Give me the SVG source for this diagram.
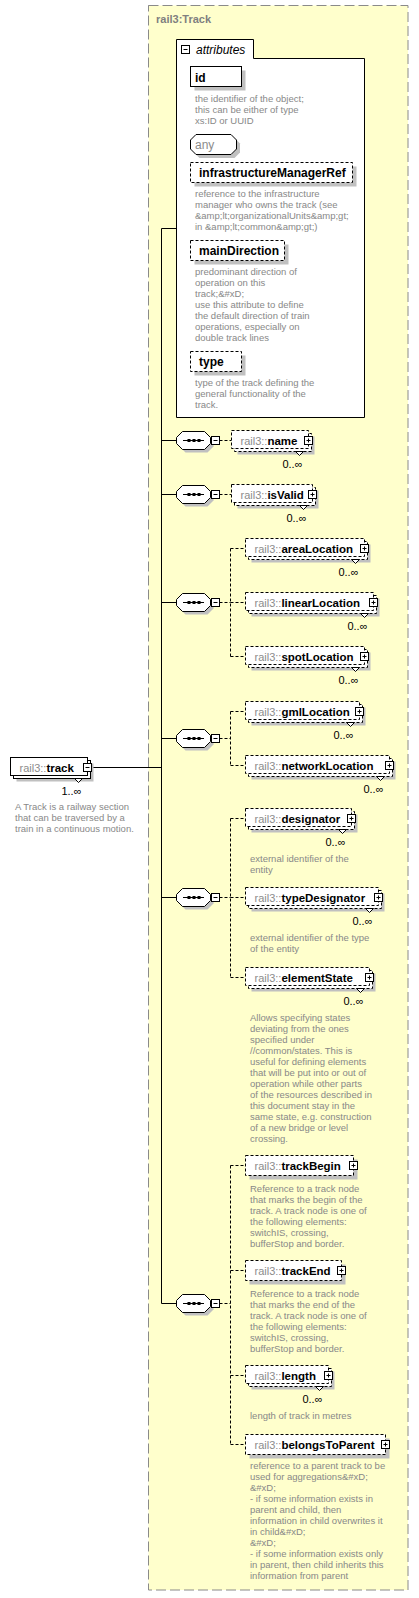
<svg xmlns="http://www.w3.org/2000/svg" xmlns:xlink="http://www.w3.org/1999/xlink" width="419" height="1598" viewBox="0 0 419 1598">
<style>
.ct{fill:#ffffcc;stroke:#8a8a8a;stroke-dasharray:10,4}
.ln{stroke:#000;fill:none}
.dl{stroke:#000;fill:none;stroke-dasharray:3,2}
.bx{fill:#fff;stroke:#000}
.bxd{fill:#fff;stroke:#000;stroke-dasharray:3,2}
.sh{fill:#c0c0c0}
text{font-family:"Liberation Sans",Arial,sans-serif}
.lbl{font-size:11px;fill:#8c8c8c}
.nm{font-size:11.5px;font-weight:bold;fill:#000}
.occ{font-size:11px;fill:#000}
.desc{font-size:9.5px;fill:#888}
.att{font-size:12px;font-weight:bold;fill:#000}
.hdr{font-size:11px;font-weight:bold;fill:#808080}
</style>
<defs>
<g id="plus"><rect class="bx" x="0" y="0" width="8" height="8"/><path d="M2,4H6M4,2V6" stroke="#000"/></g>
<g id="minus"><rect class="bx" x="0" y="0" width="8" height="8"/><path d="M2,4H6" stroke="#000"/></g>
<g id="seq">
<polygon class="sh" points="3.5,0 9.5,-6 31.5,-6 37.5,0 37.5,6 31.5,12 9.5,12 3.5,6"/>
<polygon class="bx" points="0.5,-3 6.5,-9 28.5,-9 34.5,-3 34.5,3 28.5,9 6.5,9 0.5,3"/>
<path d="M7,0H28" stroke="#000"/>
<rect x="11.5" y="-1.5" width="3" height="3" fill="#000"/>
<rect x="16.5" y="-1.5" width="3" height="3" fill="#000"/>
<rect x="21.5" y="-1.5" width="3" height="3" fill="#000"/>
<rect class="bx" x="35.5" y="-4" width="8" height="8"/>
<path d="M37.5,0H41.5" stroke="#000"/>
</g>
</defs>

<g id="container">
<rect class="ct" x="148.5" y="5.5" width="259.5" height="1584.5"/>
<text class="hdr" x="156" y="23">rail3:Track</text>
</g>

<g id="connectors">
<path class="ln" d="M161.5,228.5V1303.5M161.5,228.5H176.5M91.5,767.5H161.5M161.5,440.5H176.5M161.5,494.5H176.5M161.5,602.5H176.5M161.5,738.5H176.5M161.5,897.5H176.5M161.5,1303.5H176.5"/>
<path class="dl" d="M219.5,440.5H231.5M219.5,494.5H231.5"/>
<path class="dl" d="M219.5,602.5H230.5M230.5,548.5V656.5M230.5,548.5H245.5M230.5,602.5H245.5M230.5,656.5H245.5"/>
<path class="dl" d="M219.5,738.5H230.5M230.5,711.5V765.5M230.5,711.5H245.5M230.5,765.5H245.5"/>
<path class="dl" d="M219.5,897.5H230.5M230.5,818.5V977.5M230.5,818.5H245.5M230.5,897.5H245.5M230.5,977.5H245.5"/>
<path class="dl" d="M219.5,1303.5H230.5M230.5,1165.5V1444.5M230.5,1165.5H245.5M230.5,1270.5H245.5M230.5,1375.5H245.5M230.5,1444.5H245.5"/>
</g>

<g id="seq1"><use href="#seq" x="176" y="440.5"/></g>
<g id="seq2"><use href="#seq" x="176" y="494.5"/></g>
<g id="seq3"><use href="#seq" x="176" y="602.5"/></g>
<g id="seq4"><use href="#seq" x="176" y="738.5"/></g>
<g id="seq5"><use href="#seq" x="176" y="897.5"/></g>
<g id="seq6"><use href="#seq" x="176" y="1303.5"/></g>

<g id="attributes">
<path class="bx" d="M176.5,417.5V39.5H253.5V58.5H364.5V417.5Z"/>
<use href="#minus" x="181.5" y="45.5"/>
<text x="196" y="54" font-size="12" font-style="italic" fill="#000">attributes</text>
</g>

<g id="attr-id">
<rect class="sh" x="194.5" y="70.5" width="51" height="20"/>
<rect class="bx" x="190.5" y="66.5" width="51" height="20"/>
<text class="att" x="195" y="81.5">id</text>
<text class="desc" x="195"><tspan x="195" y="101.5">the identifier of the object;</tspan><tspan x="195" y="112.5">this can be either of type</tspan><tspan x="195" y="123.5">xs:ID or UUID</tspan></text>
</g>

<g id="attr-any">
<polygon class="sh" points="194,143.5 199.5,138 234.5,138 240,143.5 240,152.5 234.5,158 199.5,158 194,152.5"/>
<polygon class="bx" points="190.5,140 196,134.5 231,134.5 236.5,140 236.5,149 231,154.5 196,154.5 190.5,149"/>
<text x="195" y="148.5" font-size="12" fill="#8c8c8c">any</text>
</g>

<g id="attr-infrastructureManagerRef">
<rect class="sh" x="194.5" y="166.5" width="162" height="20"/>
<rect class="bxd" x="190.5" y="162.5" width="162" height="20"/>
<text class="att" x="199" y="177">infrastructureManagerRef</text>
<text class="desc"><tspan x="195" y="197">reference to the infrastructure</tspan><tspan x="195" y="208">manager who owns the track (see</tspan><tspan x="195" y="219">&amp;amp;lt;organizationalUnits&amp;amp;gt;</tspan><tspan x="195" y="230">in &amp;amp;lt;common&amp;amp;gt;)</tspan></text>
</g>

<g id="attr-mainDirection">
<rect class="sh" x="194.5" y="244.5" width="94" height="20"/>
<rect class="bxd" x="190.5" y="240.5" width="94" height="20"/>
<text class="att" x="199" y="255">mainDirection</text>
<text class="desc"><tspan x="195" y="275">predominant direction of</tspan><tspan x="195" y="286">operation on this</tspan><tspan x="195" y="297">track;&amp;#xD;</tspan><tspan x="195" y="308">use this attribute to define</tspan><tspan x="195" y="319">the default direction of train</tspan><tspan x="195" y="330">operations, especially on</tspan><tspan x="195" y="341">double track lines</tspan></text>
</g>

<g id="attr-type">
<rect class="sh" x="194.5" y="355.5" width="51" height="20"/>
<rect class="bxd" x="190.5" y="351.5" width="51" height="20"/>
<text class="att" x="199" y="366">type</text>
<text class="desc"><tspan x="195" y="386">type of the track defining the</tspan><tspan x="195" y="397">general functionality of the</tspan><tspan x="195" y="408">track.</tspan></text>
</g>

<g id="track">
<rect class="sh" x="16.5" y="763.5" width="77" height="18"/>
<rect class="bx" x="13.5" y="760.5" width="77" height="18"/>
<rect class="bx" x="10.5" y="757.5" width="77" height="18"/>
<polygon class="bx" points="74.5,778.5 78.5,782.5 82.5,778.5"/>
<text x="19.5" y="771.5"><tspan class="lbl">rail3::</tspan><tspan class="nm">track</tspan></text>
<use href="#minus" x="83.5" y="763.5"/>
<text class="occ" x="81.5" y="794.5" text-anchor="end">1..∞</text>
<text class="desc"><tspan x="15" y="809.5">A Track is a railway section</tspan><tspan x="15" y="820.5">that can be traversed by a</tspan><tspan x="15" y="831.5">train in a continuous motion.</tspan></text>
</g>

<g id="name">
<rect class="sh" x="237.5" y="436.5" width="77" height="18"/>
<rect class="bxd" x="234.5" y="433.5" width="77" height="18"/>
<rect class="bxd" x="231.5" y="430.5" width="77" height="18"/>
<polygon class="bx" points="295.5,451.5 299.5,455.5 303.5,451.5"/>
<text x="240.5" y="444.5"><tspan class="lbl">rail3::</tspan><tspan class="nm">name</tspan></text>
<use href="#plus" x="304.5" y="436.5"/>
<text class="occ" x="302.5" y="467.5" text-anchor="end">0..∞</text>
</g>

<g id="isValid">
<rect class="sh" x="237.5" y="490.5" width="81" height="18"/>
<rect class="bxd" x="234.5" y="487.5" width="81" height="18"/>
<rect class="bxd" x="231.5" y="484.5" width="81" height="18"/>
<polygon class="bx" points="299.5,505.5 303.5,509.5 307.5,505.5"/>
<text x="240.5" y="498.5"><tspan class="lbl">rail3::</tspan><tspan class="nm">isValid</tspan></text>
<use href="#plus" x="308.5" y="490.5"/>
<text class="occ" x="306.5" y="521.5" text-anchor="end">0..∞</text>
</g>

<g id="areaLocation">
<rect class="sh" x="251.5" y="544.5" width="119" height="18"/>
<rect class="bxd" x="248.5" y="541.5" width="119" height="18"/>
<rect class="bxd" x="245.5" y="538.5" width="119" height="18"/>
<polygon class="bx" points="351.5,559.5 355.5,563.5 359.5,559.5"/>
<text x="254.5" y="552.5"><tspan class="lbl">rail3::</tspan><tspan class="nm">areaLocation</tspan></text>
<use href="#plus" x="360.5" y="544.5"/>
<text class="occ" x="358.5" y="575.5" text-anchor="end">0..∞</text>
</g>

<g id="linearLocation">
<rect class="sh" x="251.5" y="598.5" width="128" height="18"/>
<rect class="bxd" x="248.5" y="595.5" width="128" height="18"/>
<rect class="bxd" x="245.5" y="592.5" width="128" height="18"/>
<polygon class="bx" points="360.5,613.5 364.5,617.5 368.5,613.5"/>
<text x="254.5" y="606.5"><tspan class="lbl">rail3::</tspan><tspan class="nm">linearLocation</tspan></text>
<use href="#plus" x="369.5" y="598.5"/>
<text class="occ" x="367.5" y="629.5" text-anchor="end">0..∞</text>
</g>

<g id="spotLocation">
<rect class="sh" x="251.5" y="652.5" width="119" height="18"/>
<rect class="bxd" x="248.5" y="649.5" width="119" height="18"/>
<rect class="bxd" x="245.5" y="646.5" width="119" height="18"/>
<polygon class="bx" points="351.5,667.5 355.5,671.5 359.5,667.5"/>
<text x="254.5" y="660.5"><tspan class="lbl">rail3::</tspan><tspan class="nm">spotLocation</tspan></text>
<use href="#plus" x="360.5" y="652.5"/>
<text class="occ" x="358.5" y="683.5" text-anchor="end">0..∞</text>
</g>

<g id="gmlLocation">
<rect class="sh" x="251.5" y="707.5" width="114" height="18"/>
<rect class="bxd" x="248.5" y="704.5" width="114" height="18"/>
<rect class="bxd" x="245.5" y="701.5" width="114" height="18"/>
<polygon class="bx" points="346.5,722.5 350.5,726.5 354.5,722.5"/>
<text x="254.5" y="715.5"><tspan class="lbl">rail3::</tspan><tspan class="nm">gmlLocation</tspan></text>
<use href="#plus" x="355.5" y="707.5"/>
<text class="occ" x="353.5" y="738.5" text-anchor="end">0..∞</text>
</g>

<g id="networkLocation">
<rect class="sh" x="251.5" y="761.5" width="144" height="18"/>
<rect class="bxd" x="248.5" y="758.5" width="144" height="18"/>
<rect class="bxd" x="245.5" y="755.5" width="144" height="18"/>
<polygon class="bx" points="376.5,776.5 380.5,780.5 384.5,776.5"/>
<text x="254.5" y="769.5"><tspan class="lbl">rail3::</tspan><tspan class="nm">networkLocation</tspan></text>
<use href="#plus" x="385.5" y="761.5"/>
<text class="occ" x="383.5" y="792.5" text-anchor="end">0..∞</text>
</g>

<g id="designator">
<rect class="sh" x="251.5" y="814.5" width="106" height="18"/>
<rect class="bxd" x="248.5" y="811.5" width="106" height="18"/>
<rect class="bxd" x="245.5" y="808.5" width="106" height="18"/>
<polygon class="bx" points="338.5,829.5 342.5,833.5 346.5,829.5"/>
<text x="254.5" y="822.5"><tspan class="lbl">rail3::</tspan><tspan class="nm">designator</tspan></text>
<use href="#plus" x="347.5" y="814.5"/>
<text class="occ" x="345.5" y="845.5" text-anchor="end">0..∞</text>
<text class="desc"><tspan x="250" y="861.5">external identifier of the</tspan><tspan x="250" y="872.5">entity</tspan></text>
</g>

<g id="typeDesignator">
<rect class="sh" x="251.5" y="893.5" width="133" height="18"/>
<rect class="bxd" x="248.5" y="890.5" width="133" height="18"/>
<rect class="bxd" x="245.5" y="887.5" width="133" height="18"/>
<polygon class="bx" points="365.5,908.5 369.5,912.5 373.5,908.5"/>
<text x="254.5" y="901.5"><tspan class="lbl">rail3::</tspan><tspan class="nm">typeDesignator</tspan></text>
<use href="#plus" x="374.5" y="893.5"/>
<text class="occ" x="372.5" y="924.5" text-anchor="end">0..∞</text>
<text class="desc"><tspan x="250" y="940.5">external identifier of the type</tspan><tspan x="250" y="951.5">of the entity</tspan></text>
</g>

<g id="elementState">
<rect class="sh" x="251.5" y="973.5" width="124" height="18"/>
<rect class="bxd" x="248.5" y="970.5" width="124" height="18"/>
<rect class="bxd" x="245.5" y="967.5" width="124" height="18"/>
<polygon class="bx" points="356.5,988.5 360.5,992.5 364.5,988.5"/>
<text x="254.5" y="981.5"><tspan class="lbl">rail3::</tspan><tspan class="nm">elementState</tspan></text>
<use href="#plus" x="365.5" y="973.5"/>
<text class="occ" x="363.5" y="1004.5" text-anchor="end">0..∞</text>
<text class="desc"><tspan x="250" y="1020.5">Allows specifying states</tspan><tspan x="250" y="1031.5">deviating from the ones</tspan><tspan x="250" y="1042.5">specified under</tspan><tspan x="250" y="1053.5">//common/states. This is</tspan><tspan x="250" y="1064.5">useful for defining elements</tspan><tspan x="250" y="1075.5">that will be put into or out of</tspan><tspan x="250" y="1086.5">operation while other parts</tspan><tspan x="250" y="1097.5">of the resources described in</tspan><tspan x="250" y="1108.5">this document stay in the</tspan><tspan x="250" y="1119.5">same state, e.g. construction</tspan><tspan x="250" y="1130.5">of a new bridge or level</tspan><tspan x="250" y="1141.5">crossing.</tspan></text>
</g>

<g id="trackBegin">
<rect class="sh" x="249.5" y="1159.5" width="108" height="20"/>
<rect class="bxd" x="245.5" y="1155.5" width="108" height="20"/>
<text x="254.5" y="1170"><tspan class="lbl">rail3::</tspan><tspan class="nm">trackBegin</tspan></text>
<use href="#plus" x="349.5" y="1161.5"/>
<text class="desc"><tspan x="250" y="1191.5">Reference to a track node</tspan><tspan x="250" y="1202.5">that marks the begin of the</tspan><tspan x="250" y="1213.5">track. A track node is one of</tspan><tspan x="250" y="1224.5">the following elements:</tspan><tspan x="250" y="1235.5">switchIS, crossing,</tspan><tspan x="250" y="1246.5">bufferStop and border.</tspan></text>
</g>

<g id="trackEnd">
<rect class="sh" x="249.5" y="1264.5" width="96" height="20"/>
<rect class="bxd" x="245.5" y="1260.5" width="96" height="20"/>
<text x="254.5" y="1275"><tspan class="lbl">rail3::</tspan><tspan class="nm">trackEnd</tspan></text>
<use href="#plus" x="337.5" y="1266.5"/>
<text class="desc"><tspan x="250" y="1296.5">Reference to a track node</tspan><tspan x="250" y="1307.5">that marks the end of the</tspan><tspan x="250" y="1318.5">track. A track node is one of</tspan><tspan x="250" y="1329.5">the following elements:</tspan><tspan x="250" y="1340.5">switchIS, crossing,</tspan><tspan x="250" y="1351.5">bufferStop and border.</tspan></text>
</g>

<g id="length">
<rect class="sh" x="251.5" y="1371.5" width="83" height="18"/>
<rect class="bxd" x="248.5" y="1368.5" width="83" height="18"/>
<rect class="bxd" x="245.5" y="1365.5" width="83" height="18"/>
<polygon class="bx" points="315.5,1386.5 319.5,1390.5 323.5,1386.5"/>
<text x="254.5" y="1379.5"><tspan class="lbl">rail3::</tspan><tspan class="nm">length</tspan></text>
<use href="#plus" x="324.5" y="1371.5"/>
<text class="occ" x="322.5" y="1402.5" text-anchor="end">0..∞</text>
<text class="desc"><tspan x="250" y="1418.5">length of track in metres</tspan></text>
</g>

<g id="belongsToParent">
<rect class="sh" x="249.5" y="1438.5" width="140" height="20"/>
<rect class="bxd" x="245.5" y="1434.5" width="140" height="20"/>
<text x="254.5" y="1449"><tspan class="lbl">rail3::</tspan><tspan class="nm">belongsToParent</tspan></text>
<use href="#plus" x="381.5" y="1440.5"/>
<text class="desc"><tspan x="250" y="1468.5">reference to a parent track to be</tspan><tspan x="250" y="1479.5">used for aggregations&amp;#xD;</tspan><tspan x="250" y="1490.5">&amp;#xD;</tspan><tspan x="250" y="1501.5">- if some information exists in</tspan><tspan x="250" y="1512.5">parent and child, then</tspan><tspan x="250" y="1523.5">information in child overwrites it</tspan><tspan x="250" y="1534.5">in child&amp;#xD;</tspan><tspan x="250" y="1545.5">&amp;#xD;</tspan><tspan x="250" y="1556.5">- if some information exists only</tspan><tspan x="250" y="1567.5">in parent, then child inherits this</tspan><tspan x="250" y="1578.5">information from parent</tspan></text>
</g>
</svg>
